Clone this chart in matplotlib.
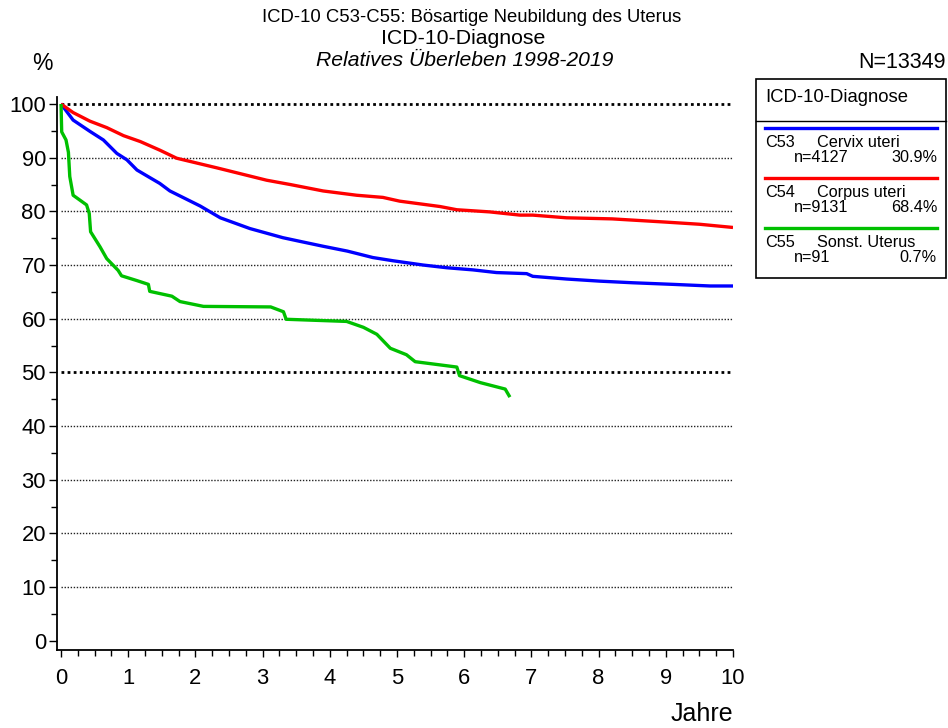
import matplotlib
matplotlib.use("Agg")
import matplotlib.pyplot as plt
from matplotlib.lines import Line2D
from matplotlib.patches import Rectangle

plt.rcParams['font.family'] = ['Liberation Sans', 'DejaVu Sans']

# ---- data ----
t_c53 = [0, 0.18, 0.43, 0.63, 0.83, 0.98, 1.13, 1.32, 1.47, 1.62, 2.07, 2.37, 2.81, 3.30,
         3.56, 3.90, 4.26, 4.64, 4.94, 5.39, 5.74, 6.13, 6.48, 6.93, 7.02, 7.52, 8.02, 8.51,
         9.11, 9.66, 10]
v_c53 = [100, 97.0, 94.9, 93.3, 90.8, 89.6, 87.7, 86.3, 85.2, 83.8, 81.0, 78.8, 76.8, 75.1,
         74.4, 73.5, 72.6, 71.4, 70.8, 70.0, 69.5, 69.1, 68.6, 68.4, 67.9, 67.4, 67.0, 66.7,
         66.4, 66.1, 66.1]

t_c54 = [0, 0.18, 0.43, 0.68, 0.93, 1.18, 1.47, 1.72, 2.32, 3.06, 3.41, 3.90, 4.40, 4.79,
         5.04, 5.64, 5.89, 6.38, 6.83, 7.02, 7.52, 8.2, 9.0, 9.5, 10]
v_c54 = [100, 98.4, 96.8, 95.6, 94.1, 93.0, 91.4, 89.9, 88.1, 85.8, 85.0, 83.8, 83.0, 82.6,
         81.9, 80.9, 80.3, 79.9, 79.3, 79.3, 78.8, 78.6, 78.0, 77.6, 77.0]

t_c55 = [0, 0.01, 0.074, 0.11, 0.13, 0.18, 0.38, 0.42, 0.44, 0.58, 0.68, 0.85, 0.90, 1.13,
         1.30, 1.32, 1.65, 1.77, 2.12, 3.12, 3.31, 3.35, 4.25, 4.50, 4.70, 4.90, 5.14, 5.27,
         5.89, 5.93, 6.24, 6.61, 6.68]
v_c55 = [100, 94.8, 93.3, 91.0, 86.5, 83.0, 81.2, 79.6, 76.2, 73.4, 71.2, 69.0, 68.0, 67.1,
         66.4, 65.1, 64.2, 63.2, 62.3, 62.2, 61.3, 59.9, 59.5, 58.4, 57.1, 54.5, 53.3, 52.0,
         51.0, 49.4, 48.1, 46.9, 45.4]

codes = ["C53", "C54", "C55"]
names = ["Cervix uteri", "Corpus uteri", "Sonst. Uterus"]
counts = ["n=4127", "n=9131", "n=91"]
shares = ["30.9%", "68.4%", "0.7%"]
colors = ["#0000ff", "#ff0000", "#00c000"]

y_ticks = list(range(0, 101, 10))
x_ticks = list(range(0, 11))

# ---- figure ----
W, H = 948, 728
fig = plt.figure(figsize=(W / 100, H / 100), dpi=100)

def fx(px):
    return px / W

def fy(py):
    return 1 - py / H

ax = fig.add_axes([fx(57), fy(650), fx(733) - fx(57), fy(97) - fy(650)])
ax.set_xlim(-0.06, 10)
ax.set_ylim(-1.7, 101.3)

# grid lines
for yv in y_ticks[1:]:
    if yv in (50, 100):
        ax.hlines(yv, 0, 10, colors="black", linewidth=2.0, linestyles=(0, (1, 1.2)), zorder=1)
    else:
        ax.hlines(yv, 0, 10, colors="#222222", linewidth=1.0, linestyles=(0, (1, 1.2)), zorder=1)

for t, v, c in zip([t_c53, t_c54, t_c55], [v_c53, v_c54, v_c55], colors):
    ax.plot(t, v, color=c, linewidth=2.4, zorder=3, solid_joinstyle="round", solid_capstyle="butt")

for s in ["top", "right"]:
    ax.spines[s].set_visible(False)
for s in ["left", "bottom"]:
    ax.spines[s].set_linewidth(1.3)

ax.set_yticks(y_ticks)
ax.set_yticks(list(range(5, 100, 10)), minor=True)
ax.set_xticks(x_ticks)
ax.set_xticks([i * 0.25 for i in range(41) if i % 4 != 0], minor=True)
ax.tick_params(axis="y", which="major", length=6, width=1, labelsize=15.8, pad=2)
ax.tick_params(axis="y", which="minor", length=4, width=1)
ax.tick_params(axis="x", which="major", length=5, width=1, labelsize=15.8, pad=8)
ax.tick_params(axis="x", which="minor", length=4, width=1)

# titles
fig.text(fx(472), fy(18), "ICD-10 C53-C55: Bösartige Neubildung des Uterus", ha="center", va="center", fontsize=13.3)
fig.text(fx(463), fy(39), "ICD-10-Diagnose", ha="center", va="center", fontsize=15.3)
fig.text(fx(465), fy(61), "Relatives Überleben 1998-2019", ha="center", va="center", fontsize=15.2, style="italic")
fig.text(fx(42), fy(64), "%", ha="center", va="center", fontsize=16.5)
fig.text(fx(946), fy(62), "N=13349", ha="right", va="center", fontsize=15.5)
fig.text(fx(733), fy(714), "Jahre", ha="right", va="center", fontsize=18)

# legend box
fig.patches.append(Rectangle((fx(755.5), fy(278)), fx(945.5) - fx(755.5), fy(79) - fy(278),
                             transform=fig.transFigure, fill=False, edgecolor="black", linewidth=1.2))
fig.lines.append(Line2D([fx(755.5), fx(945.5)], [fy(121), fy(121)], transform=fig.transFigure,
                        color="black", linewidth=1.0))
fig.text(fx(765), fy(98), "ICD-10-Diagnose", ha="left", va="center", fontsize=13.3)
for i in range(3):
    y0 = 128.3 + 50 * i
    fig.lines.append(Line2D([fx(765), fx(937)], [fy(y0), fy(y0)], transform=fig.transFigure,
                            color=colors[i], linewidth=2.4))
    fig.text(fx(765), fy(y0 + 14.5), codes[i], ha="left", va="center", fontsize=11.7)
    fig.text(fx(817), fy(y0 + 14.5), names[i], ha="left", va="center", fontsize=11.7)
    fig.text(fx(794), fy(y0 + 29.5), counts[i], ha="left", va="center", fontsize=11.7)
    fig.text(fx(937), fy(y0 + 29.5), shares[i], ha="right", va="center", fontsize=11.7)

fig.savefig("out.png", dpi=100)
